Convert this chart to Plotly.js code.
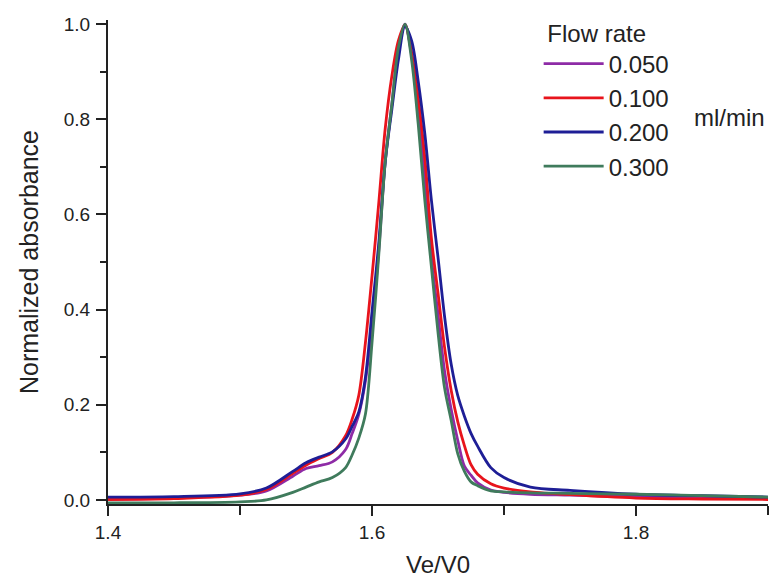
<!DOCTYPE html>
<html>
<head>
<meta charset="utf-8">
<script src="https://cdn.plot.ly/plotly-3.0.1.min.js"></script>
<style>html,body{margin:0;padding:0;background:#fff;}#chart{width:772px;height:579px;}</style>
</head>
<body>
<div id="chart"></div>
<script>
// Ve/V0 sample positions
const veV0 = [1.40, 1.45, 1.50, 1.52, 1.54, 1.55, 1.56, 1.57, 1.58, 1.585, 1.59, 1.595, 1.60, 1.605, 1.61, 1.615, 1.62, 1.625, 1.63, 1.635, 1.64, 1.645, 1.65, 1.655, 1.66, 1.665, 1.67, 1.675, 1.68, 1.69, 1.70, 1.72, 1.75, 1.80, 1.85, 1.90];

const flowLabels = ["0.050", "0.100", "0.200", "0.300"];

const abs050 = [0.002, 0.004, 0.010, 0.019, 0.050, 0.066, 0.072, 0.080, 0.106, 0.14, 0.18, 0.25, 0.37, 0.52, 0.71, 0.83, 0.945, 1.0, 0.935, 0.82, 0.68, 0.51, 0.39, 0.27, 0.19, 0.125, 0.071, 0.052, 0.036, 0.021, 0.016, 0.012, 0.010, 0.007, 0.005, 0.004];
const abs100 = [0.001, 0.003, 0.010, 0.022, 0.056, 0.073, 0.087, 0.100, 0.135, 0.17, 0.22, 0.33, 0.47, 0.62, 0.78, 0.89, 0.965, 0.998, 0.94, 0.845, 0.72, 0.55, 0.435, 0.32, 0.23, 0.164, 0.114, 0.074, 0.054, 0.034, 0.025, 0.017, 0.011, 0.004, 0.002, 0.001];
const abs200 = [0.006, 0.007, 0.013, 0.025, 0.060, 0.078, 0.090, 0.101, 0.128, 0.155, 0.185, 0.257, 0.395, 0.535, 0.71, 0.82, 0.925, 0.995, 0.965, 0.88, 0.77, 0.63, 0.51, 0.385, 0.285, 0.219, 0.176, 0.14, 0.113, 0.068, 0.047, 0.027, 0.020, 0.012, 0.009, 0.006];
const abs300 = [-0.006, -0.006, -0.004, 0.000, 0.016, 0.027, 0.038, 0.047, 0.068, 0.095, 0.13, 0.18, 0.33, 0.51, 0.71, 0.83, 0.95, 1.0, 0.925, 0.79, 0.63, 0.49, 0.352, 0.235, 0.167, 0.097, 0.06, 0.038, 0.03, 0.019, 0.017, 0.015, 0.014, 0.012, 0.009, 0.006];

const seriesValues = [abs050, abs100, abs200, abs300];
const seriesColors = ["#8E2BA6", "#E8141C", "#1E1E96", "#3F7B5C"];

const traces = seriesValues.map((vals, i) => ({
  x: veV0,
  y: vals,
  type: "scatter",
  mode: "lines",
  name: flowLabels[i],
  line: {color: seriesColors[i], width: 2.8, shape: "spline", smoothing: 0.9}
}));

const fontFam = "Liberation Sans, Arial, sans-serif";

const layout = {
  width: 772,
  height: 579,
  margin: {l: 108, r: 4, t: 20, b: 75},
  paper_bgcolor: "#fff",
  plot_bgcolor: "#fff",
  font: {family: fontFam, color: "#1a1a1a"},
  xaxis: {
    range: [1.4, 1.9],
    tickmode: "array",
    tickvals: [1.4, 1.6, 1.8],
    ticktext: ["1.4", "1.6", "1.8"],
    ticks: "outside",
    ticklen: 10,
    tickwidth: 2,
    tickcolor: "#222",
    minor: {tickvals: [1.5, 1.7, 1.9], ticks: "outside", ticklen: 9, tickwidth: 2, tickcolor: "#222"},
    showline: true,
    linecolor: "#222",
    linewidth: 2,
    showgrid: false,
    zeroline: false,
    tickfont: {size: 19, family: fontFam, color: "#222"},
    title: {text: "Ve/V0", font: {size: 24, family: fontFam, color: "#222"}, standoff: 14}
  },
  yaxis: {
    range: [-0.0085, 1.0085],
    tickmode: "array",
    tickvals: [0, 0.2, 0.4, 0.6, 0.8, 1.0],
    ticktext: ["0.0", "0.2", "0.4", "0.6", "0.8", "1.0"],
    ticks: "outside",
    ticklen: 10,
    tickwidth: 2,
    tickcolor: "#222",
    ticklabelstandoff: 2,
    minor: {tickvals: [0.1, 0.3, 0.5, 0.7, 0.9], ticks: "outside", ticklen: 6, tickwidth: 2, tickcolor: "#222"},
    showline: true,
    linecolor: "#222",
    linewidth: 2,
    showgrid: false,
    zeroline: false,
    tickfont: {size: 19, family: fontFam, color: "#222"},
    title: {text: "Normalized absorbance", font: {size: 25, family: fontFam, color: "#222"}, standoff: 18}
  },
  showlegend: true,
  legend: {
    x: 0.6525,
    y: 1.02,
    xanchor: "left",
    yanchor: "top",
    bgcolor: "rgba(0,0,0,0)",
    borderwidth: 0,
    itemwidth: 60,
    tracegroupgap: 0,
    font: {size: 24, family: fontFam, color: "#222"},
    title: {text: "\u00A0Flow rate", font: {size: 24, family: fontFam, color: "#222"}}
  },
  annotations: [{
    xref: "paper", yref: "paper",
    x: (692 - 108) / 660, y: (504 - 117) / 484,
    xanchor: "left", yanchor: "middle",
    text: "ml/min", showarrow: false,
    font: {size: 24, family: fontFam, color: "#222"}
  }]
};

Plotly.newPlot("chart", traces, layout, {displayModeBar: false, staticPlot: true});
</script>
</body>
</html>
